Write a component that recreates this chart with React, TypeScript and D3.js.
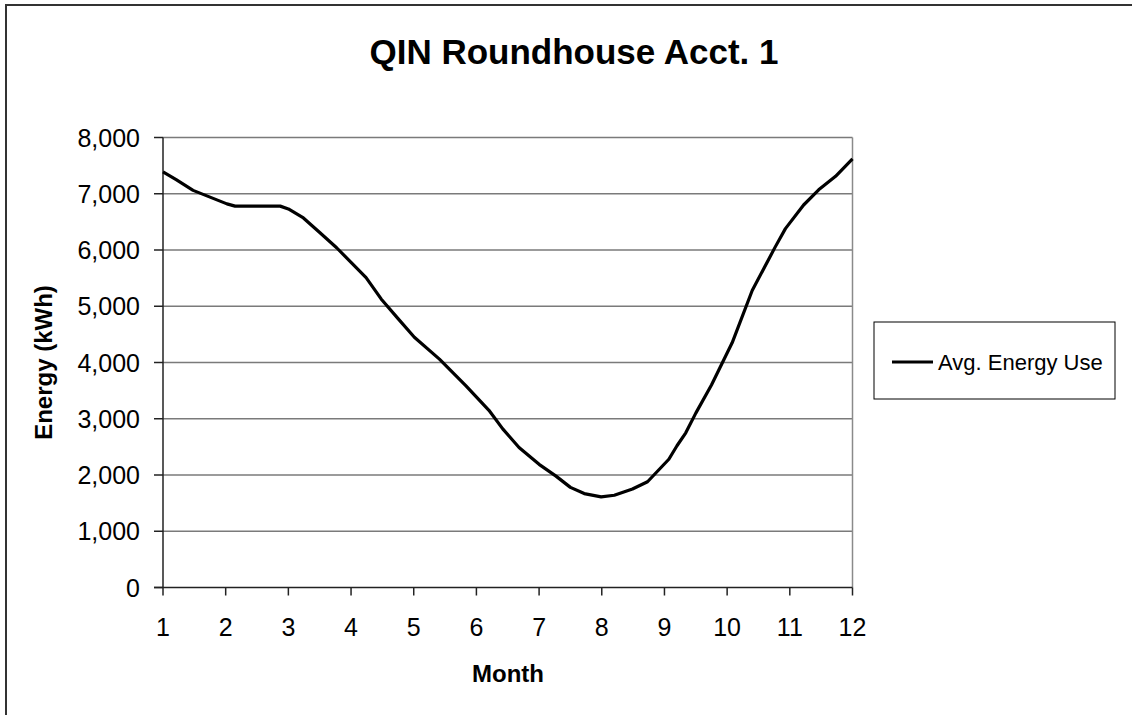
import React from "react";
import * as d3 from "d3";

const months: number[] = [1.0, 1.21, 1.48, 1.75, 2.02, 2.15, 2.87, 3.0, 3.24, 3.5, 3.77, 4.0, 4.24, 4.48, 4.75, 5.01, 5.41, 5.83, 6.2, 6.42, 6.68, 7.0, 7.27, 7.5, 7.72, 7.99, 8.2, 8.49, 8.73, 9.07, 9.2, 9.34, 9.5, 9.75, 10.08, 10.4, 10.77, 10.93, 11.22, 11.46, 11.73, 12.0];
const energy: number[] = [7390, 7250, 7060, 6940, 6820, 6780, 6780, 6730, 6570, 6310, 6040, 5780, 5510, 5130, 4780, 4450, 4060, 3590, 3150, 2820, 2490, 2190, 1980, 1780, 1670, 1610, 1640, 1750, 1880, 2280, 2520, 2750, 3100, 3600, 4350, 5280, 6060, 6380, 6800, 7070, 7310, 7620];
const xTicks: number[] = [1, 2, 3, 4, 5, 6, 7, 8, 9, 10, 11, 12];
const yTicks: number[] = [0, 1000, 2000, 3000, 4000, 5000, 6000, 7000, 8000];
const title = "QIN Roundhouse Acct. 1";
const xTitle = "Month";
const yTitle = "Energy (kWh)";
const seriesName = "Avg. Energy Use";

export default function App() {
  const W = 1132, H = 715;
  const left = 163, right = 852.5, top = 137.5, bottom = 587.5;
  const x = d3.scaleLinear().domain([1, 12]).range([left, right]);
  const y = d3.scaleLinear().domain([0, 8000]).range([bottom, top]);
  const pts = months.map((m, i) => [m, energy[i]] as [number, number]);
  const line = d3.line<[number, number]>().x(d => x(d[0])).y(d => y(d[1]));
  const fmt = d3.format(",");
  const font = "'Liberation Sans', Arial, sans-serif";
  return (
    <svg width={W} height={H} style={{ position: "absolute", left: 0, top: 0, background: "#fff" }} fontFamily={font}>
      <rect x={0} y={0} width={W} height={H} fill="#fff" />
      <rect x={6} y={5} width={1300} height={900} fill="none" stroke="#333" strokeWidth={2} />
      <text x={574} y={64} textAnchor="middle" fontSize={35} fontWeight="bold">{title}</text>
      {yTicks.map(t => (
        <g key={"y" + t}>
          {t > 0 && <line x1={left} x2={right} y1={y(t)} y2={y(t)} stroke="#7a7a7a" strokeWidth={1.5} />}
          <line x1={left - 9} x2={left} y1={y(t)} y2={y(t)} stroke="#222" strokeWidth={1.5} />
          <text x={140} y={y(t)} dy="0.36em" textAnchor="end" fontSize={25}>{fmt(t)}</text>
        </g>
      ))}
      <line x1={right} x2={right} y1={top} y2={bottom} stroke="#8a8a8a" strokeWidth={1.5} />
      {xTicks.map(t => (
        <g key={"x" + t}>
          <line x1={x(t)} x2={x(t)} y1={bottom} y2={bottom + 8} stroke="#222" strokeWidth={1.5} />
          <text x={x(t)} y={636} textAnchor="middle" fontSize={25}>{t}</text>
        </g>
      ))}
      <line x1={left} x2={left} y1={top} y2={bottom} stroke="#222" strokeWidth={1.5} />
      <line x1={left - 9} x2={right} y1={bottom} y2={bottom} stroke="#222" strokeWidth={1.5} />
      <path d={line(pts) || ""} fill="none" stroke="#000" strokeWidth={3.2} strokeLinejoin="round" />
      <text x={508} y={682} textAnchor="middle" fontSize={24} fontWeight="bold">{xTitle}</text>
      <text transform={`translate(52,${(top + bottom) / 2}) rotate(-90)`} textAnchor="middle" fontSize={24} fontWeight="bold">{yTitle}</text>
      <rect x={874} y={322} width={241} height={77} fill="#fff" stroke="#000" strokeWidth={1} />
      <line x1={892} x2={933} y1={362} y2={362} stroke="#000" strokeWidth={3.2} />
      <text x={938} y={362} dy="0.36em" fontSize={22}>{seriesName}</text>
    </svg>
  );
}
